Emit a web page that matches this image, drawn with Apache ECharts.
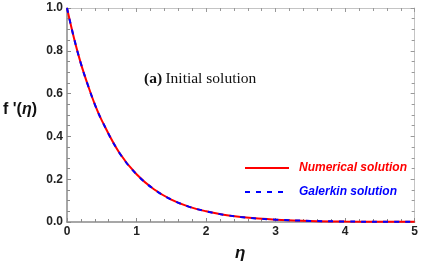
<!DOCTYPE html>
<html>
<head>
<meta charset="utf-8">
<script src="https://cdn.jsdelivr.net/npm/echarts@6/dist/echarts.min.js"></script>
<style>
html,body{margin:0;padding:0;background:#fff;}
#c{width:421px;height:266px;}
</style>
</head>
<body>
<div id="c"></div>
<script>
var eta = [0, 0.1, 0.2, 0.3, 0.4, 0.5, 0.75, 1, 1.25, 1.5, 1.75, 2, 2.25, 2.5, 2.75, 3, 3.5, 4, 4.5, 5];
var numerical = [1.0, 0.86, 0.74, 0.64, 0.55, 0.475, 0.325, 0.223, 0.153, 0.105, 0.072, 0.05, 0.034, 0.0235, 0.016, 0.011, 0.0052, 0.0025, 0.0012, 0.0006];
var galerkin = [1.0, 0.86, 0.74, 0.64, 0.55, 0.475, 0.325, 0.223, 0.153, 0.105, 0.072, 0.05, 0.034, 0.0235, 0.016, 0.011, 0.0052, 0.0025, 0.0012, 0.0006];
var xTicks = [0, 1, 2, 3, 4, 5];
var yTicks = [0.0, 0.2, 0.4, 0.6, 0.8, 1.0];

function pairs(xs, ys){ return xs.map(function(x,i){ return [x, ys[i]]; }); }

var chart = echarts.init(document.getElementById('c'), null, {renderer:'canvas'});
var labelStyle = {color:'#222', fontFamily:'Arial, Liberation Sans', fontWeight:'bold', fontSize:12};
var dark = '#8a8a8a', light = '#c4c4c4';
chart.setOption({
  animation:false,
  grid:{left:67, top:8, right:6, bottom:44, containLabel:false},
  xAxis:[{
    type:'value', min:xTicks[0], max:xTicks[xTicks.length-1], interval:1, position:'bottom',
    axisLine:{show:true, onZero:false, lineStyle:{color:dark, width:1.5}},
    axisTick:{show:true, inside:true, length:4, lineStyle:{color:dark}},
    minorTick:{show:true, splitNumber:5, length:3, lineStyle:{color:dark}},
    splitLine:{show:false},
    axisLabel:Object.assign({margin:4}, labelStyle)
  },{
    type:'value', min:xTicks[0], max:xTicks[xTicks.length-1], interval:1, position:'top',
    axisLine:{show:true, onZero:false, lineStyle:{color:light, width:1}},
    axisTick:{show:true, inside:true, length:4, lineStyle:{color:'#999'}},
    minorTick:{show:true, splitNumber:5, length:3, lineStyle:{color:'#999'}},
    splitLine:{show:false}, axisLabel:{show:false}
  }],
  yAxis:[{
    type:'value', min:yTicks[0], max:yTicks[yTicks.length-1], interval:0.2, position:'left',
    axisLine:{show:true, onZero:false, lineStyle:{color:dark, width:1.5}},
    axisTick:{show:true, inside:true, length:4, lineStyle:{color:dark}},
    minorTick:{show:true, splitNumber:4, length:3, lineStyle:{color:dark}},
    splitLine:{show:false},
    axisLabel:Object.assign({margin:4, formatter:function(v){return v.toFixed(1);}}, labelStyle)
  },{
    type:'value', min:yTicks[0], max:yTicks[yTicks.length-1], interval:0.2, position:'right',
    axisLine:{show:true, onZero:false, lineStyle:{color:light, width:1}},
    axisTick:{show:true, inside:true, length:4, lineStyle:{color:'#999'}},
    minorTick:{show:true, splitNumber:4, length:3, lineStyle:{color:'#999'}},
    splitLine:{show:false}, axisLabel:{show:false}
  }],
  legend:{
    orient:'vertical', left:239, top:157, itemWidth:44, itemHeight:14, itemGap:12,
    itemStyle:{opacity:0},
    textStyle:{fontFamily:'Arial, Liberation Sans', fontWeight:'bold', fontStyle:'italic', fontSize:12, padding:[0,0,0,5]},
    data:[
      {name:'Numerical solution', textStyle:{color:'#ff0000'}},
      {name:'Galerkin solution', textStyle:{color:'#0000ff'}}
    ]
  },
  series:[{
    name:'Numerical solution', type:'line', smooth:0.4, symbol:'none',
    data:pairs(eta, numerical),
    lineStyle:{color:'#ff0000', width:2}, itemStyle:{color:'#ff0000'}
  },{
    name:'Galerkin solution', type:'line', smooth:0.4, symbol:'none',
    data:pairs(eta, galerkin),
    lineStyle:{color:'#0000ff', width:2, type:[5,6]}, itemStyle:{color:'#0000ff'}
  }],
  graphic:[{
    type:'text', left:144, top:71,
    style:{
      text:'{b|(a)} {n|Initial solution}',
      rich:{
        b:{fontFamily:'Liberation Serif, Times New Roman, serif', fontWeight:'bold', fontSize:15.5, fill:'#111'},
        n:{fontFamily:'Liberation Serif, Times New Roman, serif', fontSize:15.5, fill:'#111'}
      }
    }
  },{
    type:'text', left:3, top:102,
    style:{
      text:"{b|f '(}{i|η}{b|)}",
      rich:{
        b:{fontFamily:'Arial, Liberation Sans', fontWeight:'bold', fontSize:16, fill:'#111'},
        i:{fontFamily:'Arial, Liberation Sans', fontWeight:'bold', fontStyle:'italic', fontSize:16, fill:'#111'}
      }
    }
  },{
    type:'text', left:235, top:245,
    style:{text:'η', fontFamily:'Arial, Liberation Sans', fontWeight:'bold', fontStyle:'italic', fontSize:17, fill:'#111'}
  }]
});
</script>
</body>
</html>
